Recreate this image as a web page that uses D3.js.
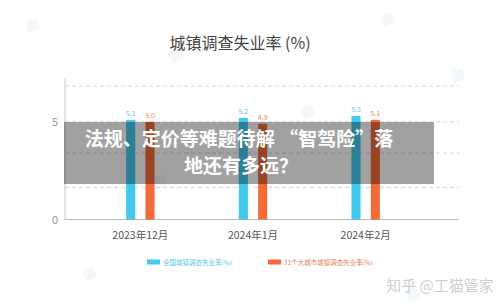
<!DOCTYPE html>
<html>
<head>
<meta charset="utf-8">
<script src="https://cdn.jsdelivr.net/npm/d3@7"></script>
<style>
  body { margin: 0; background: #fff; }
  text { font-family: "Noto Sans CJK SC", "Noto Sans", sans-serif; }
</style>
</head>
<body>
<div id="chart"></div>
<script>
const months = ["2023年12月", "2024年1月", "2024年2月"]
const series = ["全国城镇调查失业率(%)", "31个大城市城镇调查失业率(%)"]
const national = [5.1, 5.2, 5.3]
const bigCities = [5.0, 4.9, 5.1]
const yTicks = [0, 5]
const gridValues = [1.64, 3.4, 5, 6.83]

const colors = ["#41c9ee", "#f46a3a"]
const labelColors = ["#5cc6e6", "#e0845c"]

const svg = d3.select("#chart").append("svg")
    .attr("width", 500)
    .attr("height", 307)

// faint watermark logos
const marks = [[25, 22], [380, 16], [168, 52], [152, 178], [300, 108], [450, 72], [82, 270], [405, 290]]
marks.forEach(m => {
    svg.append("rect")
        .attr("x", m[0]).attr("y", m[1])
        .attr("width", 12).attr("height", 12).attr("rx", 2)
        .attr("transform", "rotate(-20," + m[0] + "," + m[1] + ")")
        .style("fill", "#d9ecf7").style("opacity", 0.35)
})

svg.append("text")
    .attr("x", 240).attr("y", 49)
    .attr("text-anchor", "middle")
    .style("font-size", "16px")
    .style("fill", "#444")
    .text("城镇调查失业率 (%)")

const y = d3.scaleLinear()
    .domain([0, 5])
    .range([219.5, 121.8])

const x0 = d3.scaleBand()
    .domain(months)
    .range([84, 422])
    .padding(0)

const x1 = d3.scaleBand()
    .domain(series)
    .range([-14.2, 14.2])
    .paddingInner(0.53)
    .paddingOuter(0)

// grid
svg.selectAll(".grid")
    .data(gridValues)
    .enter().append("line")
    .attr("x1", 65).attr("x2", 459)
    .attr("y1", d => y(d)).attr("y2", d => y(d))
    .style("stroke", "#d4d4d4")
    .style("stroke-dasharray", "4,3")

// axes
const yAxis = d3.axisLeft(y).tickValues(yTicks).tickFormat(d3.format("d")).tickSize(0).tickPadding(7)
const ga = svg.append("g")
    .attr("transform", "translate(65,0)")
    .call(yAxis)
ga.select(".domain").remove()
ga.selectAll("text").style("font-size", "11px").style("fill", "#999")
svg.append("line")
    .attr("x1", 65).attr("x2", 65)
    .attr("y1", 78).attr("y2", y(0))
    .style("stroke", "#c8c8c8")

const xAxis = d3.axisBottom(x0).tickSize(0).tickPadding(12)
const gx = svg.append("g")
    .attr("transform", "translate(0," + y(0) + ")")
    .call(xAxis)
gx.select(".domain").remove()
gx.selectAll("text").style("font-size", "10.5px").style("fill", "#555")
svg.append("line")
    .attr("x1", 65).attr("x2", 459)
    .attr("y1", y(0)).attr("y2", y(0))
    .style("stroke", "#b8b8b8")

// bars
const rows = months.map((m, i) => ({month: m, vals: [national[i], bigCities[i]]}))
const groups = svg.selectAll(".grp")
    .data(rows)
    .enter().append("g")
    .attr("transform", d => "translate(" + (x0(d.month) + x0.bandwidth() / 2) + ",0)")

groups.selectAll("rect")
    .data(d => d.vals.map((v, j) => ({s: series[j], v: v, j: j})))
    .enter().append("rect")
    .attr("x", d => x1(d.s))
    .attr("width", x1.bandwidth())
    .attr("y", d => y(d.v))
    .attr("height", d => y(0) - y(d.v))
    .style("fill", d => colors[d.j])

groups.selectAll(".val")
    .data(d => d.vals.map((v, j) => ({s: series[j], v: v, j: j})))
    .enter().append("text")
    .attr("x", d => x1(d.s) + x1.bandwidth() / 2)
    .attr("y", d => y(d.v) - 4)
    .attr("text-anchor", "middle")
    .style("font-size", "7px")
    .style("fill", d => labelColors[d.j])
    .text(d => d.v.toFixed(1))

// legend
const legendX = [147, 268]
series.forEach((s, j) => {
    svg.append("rect")
        .attr("x", legendX[j]).attr("y", 259.5)
        .attr("width", 13).attr("height", 5)
        .style("fill", colors[j])
    svg.append("text")
        .attr("x", legendX[j] + 16).attr("y", 264.5)
        .style("font-size", "6.5px")
        .style("fill", labelColors[j])
        .text(s)
})

// overlay headline
svg.append("rect")
    .attr("x", 64).attr("y", 122)
    .attr("width", 370).attr("height", 62)
    .style("fill", "rgba(0,0,0,0.37)")
svg.append("text")
    .attr("x", 239).attr("y", 146)
    .attr("text-anchor", "middle")
    .style("font-size", "19px")
    .style("font-weight", "bold")
    .style("fill", "#fff")
    .text("法规、定价等难题待解 “智驾险”落")
svg.append("text")
    .attr("x", 241).attr("y", 173)
    .attr("text-anchor", "middle")
    .style("font-size", "19px")
    .style("font-weight", "bold")
    .style("fill", "#fff")
    .text("地还有多远？")

svg.append("text")
    .attr("x", 440).attr("y", 291)
    .attr("text-anchor", "middle")
    .style("font-size", "15px")
    .style("fill", "#cfcfcf")
    .text("知乎 @工猫管家")
</script>
</body>
</html>
